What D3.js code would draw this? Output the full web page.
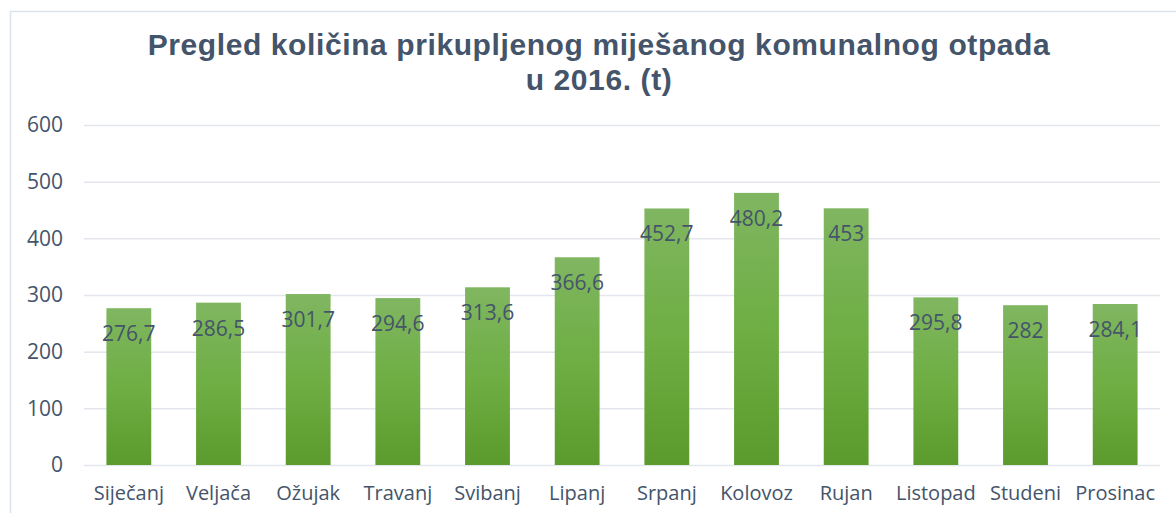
<!DOCTYPE html>
<html>
<head>
<meta charset="utf-8">
<script src="https://cdn.jsdelivr.net/npm/d3@7"></script>
<style>
  body { margin: 0; background: #fff; }
  svg { display: block; }
</style>
</head>
<body>
<div id="chart"></div>
<script>
const width = 1176, height = 513;

const months = ["Siječanj", "Veljača", "Ožujak", "Travanj", "Svibanj", "Lipanj",
  "Srpanj", "Kolovoz", "Rujan", "Listopad", "Studeni", "Prosinac"];
const values = [276.7, 286.5, 301.7, 294.6, 313.6, 366.6, 452.7, 480.2, 453, 295.8, 282, 284.1];
const yTicks = [0, 100, 200, 300, 400, 500, 600];
const titleLines = ["Pregled količina prikupljenog miješanog komunalnog otpada", "u 2016. (t)"];

const margin = {top: 125, right: 16, bottom: 48, left: 84};
const textColor = "#44546a";

const svg = d3.select("#chart").append("svg")
    .attr("width", width)
    .attr("height", height);

// chart frame
svg.append("rect")
    .attr("x", 10.5).attr("y", 11.5)
    .attr("width", width + 20).attr("height", height + 20)
    .attr("fill", "none")
    .attr("stroke", "#dde3ea")
    .attr("stroke-width", 1.5);

const defs = svg.append("defs");
const grad = defs.append("linearGradient")
    .attr("id", "barGrad")
    .attr("x1", 0).attr("y1", 0).attr("x2", 0).attr("y2", 1);
grad.append("stop").attr("offset", "0%").attr("stop-color", "#80b661");
grad.append("stop").attr("offset", "50%").attr("stop-color", "#6eae43");
grad.append("stop").attr("offset", "100%").attr("stop-color", "#5b9b2d");

const x = d3.scaleBand()
    .domain(months)
    .range([margin.left, width - margin.right])
    .paddingInner(0.5)
    .paddingOuter(0.25);

const y = d3.scaleLinear()
    .domain([0, 600])
    .range([height - margin.bottom, margin.top]);

// title
svg.append("g")
    .attr("font-family", "'Liberation Sans', Arial, sans-serif")
    .attr("font-weight", "bold")
    .attr("font-size", 30)
    .attr("letter-spacing", 0.6)
    .attr("fill", textColor)
    .attr("text-anchor", "middle")
  .selectAll("text")
  .data(titleLines)
  .join("text")
    .attr("x", 599)
    .attr("y", (d, i) => 55 + i * 35)
    .text(d => d);

// gridlines + y labels
const yAxis = d3.axisLeft(y)
    .tickValues(yTicks)
    .tickSize(-(width - margin.right - margin.left))
    .tickPadding(21);

svg.append("g")
    .attr("transform", `translate(${margin.left},0)`)
    .call(yAxis)
    .call(g => g.select(".domain").remove())
    .call(g => g.selectAll(".tick line")
        .attr("stroke", "#e4e6ee")
        .attr("stroke-width", 1.5))
    .call(g => g.selectAll(".tick text")
        .attr("font-family", "'Open Sans', sans-serif")
        .attr("font-size", 21)
        .attr("fill", textColor));

// bars
svg.append("g")
  .selectAll("rect")
  .data(values)
  .join("rect")
    .attr("x", (d, i) => x(months[i]))
    .attr("y", d => y(d))
    .attr("width", x.bandwidth())
    .attr("height", d => y(0) - y(d))
    .attr("fill", "url(#barGrad)");

// value labels
svg.append("g")
    .attr("font-family", "'Open Sans', sans-serif")
    .attr("font-size", 21)
    .attr("fill", textColor)
    .attr("text-anchor", "middle")
  .selectAll("text")
  .data(values)
  .join("text")
    .attr("x", (d, i) => x(months[i]) + x.bandwidth() / 2)
    .attr("y", d => y(d) + 33)
    .text(d => String(d).replace(".", ","));

// x labels
const xAxis = d3.axisBottom(x).tickSize(0).tickPadding(21);
svg.append("g")
    .attr("transform", `translate(0,${y(0)})`)
    .call(xAxis)
    .call(g => g.select(".domain").remove())
    .call(g => g.selectAll(".tick text")
        .attr("font-family", "'Open Sans', sans-serif")
        .attr("font-size", 20)
        .attr("fill", textColor));
</script>
</body>
</html>
